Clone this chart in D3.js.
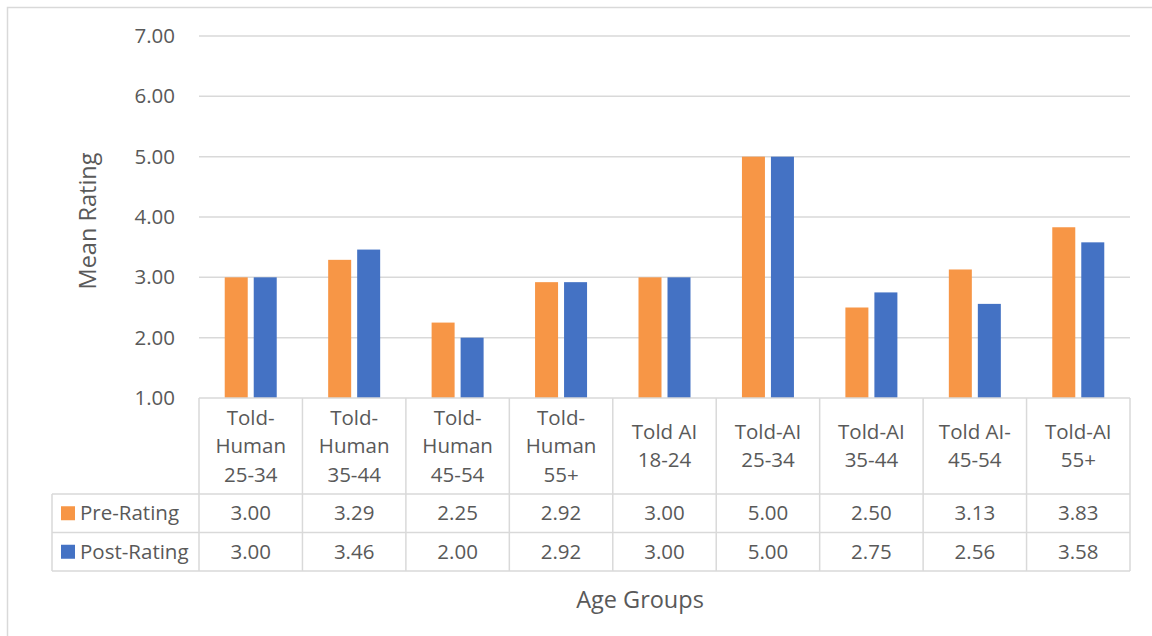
<!DOCTYPE html>
<html>
<head>
<meta charset="utf-8">
<script src="https://cdn.jsdelivr.net/npm/d3@7"></script>
<style>
  html, body { margin: 0; padding: 0; background: #fff; }
  svg { display: block; font-family: "Open Sans", "Noto Sans", sans-serif; }
</style>
</head>
<body>
<svg id="chart" width="1152" height="636"></svg>
<script>
// Category labels (one entry per line of the header cell)
const categories = [
  ["Told-", "Human", "25-34"],
  ["Told-", "Human", "35-44"],
  ["Told-", "Human", "45-54"],
  ["Told-", "Human", "55+"],
  ["Told AI", "18-24"],
  ["Told-AI", "25-34"],
  ["Told-AI", "35-44"],
  ["Told AI-", "45-54"],
  ["Told-AI", "55+"]
];
const seriesNames = ["Pre-Rating", "Post-Rating"];
const preRating  = [3.00, 3.29, 2.25, 2.92, 3.00, 5.00, 2.50, 3.13, 3.83];
const postRating = [3.00, 3.46, 2.00, 2.92, 3.00, 5.00, 2.75, 2.56, 3.58];
const yTicks = [1, 2, 3, 4, 5, 6, 7];
const seriesColors = ["#F79646", "#4472C4"];

const series = [preRating, postRating];
const catKeys = categories.map((c, i) => "c" + i);

const svg = d3.select("#chart");
const textColor = "#595959";
const lineColor = "#D9D9D9";
const labelSize = "20.5px";
const titleSize = "23.5px";

// Layout
const plotLeft = 199, plotRight = 1130, plotTop = 36, plotBottom = 398;
const headerBottom = 494, rowH = 38.5;
const tableLeft = 52;

// Outer chart border
svg.append("rect")
  .attr("x", 7.5).attr("y", 7.5)
  .attr("width", 1160).attr("height", 640)
  .attr("fill", "none").attr("stroke", lineColor).attr("stroke-width", 1.5);

const x = d3.scaleBand().domain(catKeys).range([plotLeft, plotRight]).padding(0);
const groupW = 52;
const xs = d3.scaleBand().domain(seriesNames)
  .range([(x.bandwidth() - groupW) / 2, (x.bandwidth() + groupW) / 2])
  .paddingInner(6 / 29);
const y = d3.scaleLinear().domain([1, 7]).range([plotBottom, plotTop]);

// Gridlines
svg.append("g")
  .selectAll("line")
  .data(yTicks.filter(t => t > 1))
  .join("line")
  .attr("x1", plotLeft).attr("x2", plotRight)
  .attr("y1", d => y(d)).attr("y2", d => y(d))
  .attr("stroke", lineColor).attr("stroke-width", 1.5);

// Y axis tick labels
const yAxis = d3.axisLeft(y).tickValues(yTicks).tickFormat(d3.format(".2f")).tickSize(0).tickPadding(24);
const yg = svg.append("g").attr("transform", `translate(${plotLeft},0)`).call(yAxis);
yg.select(".domain").remove();
yg.selectAll("text").attr("fill", textColor).style("font-size", labelSize)
  .style("font-family", "'Open Sans', sans-serif");

// Bars
const groups = svg.append("g").selectAll("g")
  .data(catKeys)
  .join("g")
  .attr("transform", d => `translate(${x(d)},0)`);
groups.selectAll("rect")
  .data((d, i) => series.map((s, j) => ({ name: seriesNames[j], value: s[i], color: seriesColors[j] })))
  .join("rect")
  .attr("x", d => xs(d.name))
  .attr("width", xs.bandwidth())
  .attr("y", d => y(d.value))
  .attr("height", d => y(1) - y(d.value))
  .attr("fill", d => d.color);

// Data table
const table = svg.append("g");
const tableBottom = headerBottom + rowH * 2;
const hLine = (x1, x2, yy) => table.append("line")
  .attr("x1", x1).attr("x2", x2).attr("y1", yy).attr("y2", yy)
  .attr("stroke", lineColor).attr("stroke-width", 1.5);
const vLine = (xx, y1, y2) => table.append("line")
  .attr("x1", xx).attr("x2", xx).attr("y1", y1).attr("y2", y2)
  .attr("stroke", lineColor).attr("stroke-width", 1.5);

hLine(plotLeft, plotRight, plotBottom);
hLine(tableLeft, plotRight, headerBottom);
hLine(tableLeft, plotRight, headerBottom + rowH);
hLine(tableLeft, plotRight, tableBottom);
catKeys.forEach(k => vLine(x(k), plotBottom, tableBottom));
vLine(plotRight, plotBottom, tableBottom);
vLine(tableLeft, headerBottom, tableBottom);

// Header cells (category labels)
const lineH = 28.5;
const headerMid = (plotBottom + headerBottom) / 2;
catKeys.forEach((k, i) => {
  const lines = categories[i];
  const t = table.append("text")
    .attr("text-anchor", "middle")
    .attr("fill", textColor)
    .style("font-size", labelSize);
  lines.forEach((ln, li) => {
    t.append("tspan")
      .attr("x", x(k) + x.bandwidth() / 2)
      .attr("y", headerMid + (li - (lines.length - 1) / 2) * lineH)
      .attr("dy", "0.35em")
      .text(ln);
  });
});

// Value rows with legend keys
series.forEach((s, j) => {
  const rowMid = headerBottom + rowH * j + rowH / 2;
  table.append("rect")
    .attr("x", 61).attr("y", rowMid - 7)
    .attr("width", 14).attr("height", 14)
    .attr("fill", seriesColors[j]);
  table.append("text")
    .attr("x", 80).attr("y", rowMid).attr("dy", "0.35em")
    .attr("fill", textColor).style("font-size", labelSize)
    .text(seriesNames[j]);
  s.forEach((v, i) => {
    table.append("text")
      .attr("x", x(catKeys[i]) + x.bandwidth() / 2)
      .attr("y", rowMid).attr("dy", "0.35em")
      .attr("text-anchor", "middle")
      .attr("fill", textColor).style("font-size", labelSize)
      .text(d3.format(".2f")(v));
  });
});

// Axis titles
svg.append("text")
  .attr("transform", `translate(88,${(plotTop + plotBottom) / 2 + 4}) rotate(-90)`)
  .attr("text-anchor", "middle").attr("dy", "0.35em")
  .attr("fill", textColor).style("font-size", titleSize)
  .text("Mean Rating");
svg.append("text")
  .attr("x", 640).attr("y", 600).attr("dy", "0.35em")
  .attr("text-anchor", "middle")
  .attr("fill", textColor).style("font-size", titleSize)
  .text("Age Groups");
</script>
</body>
</html>
